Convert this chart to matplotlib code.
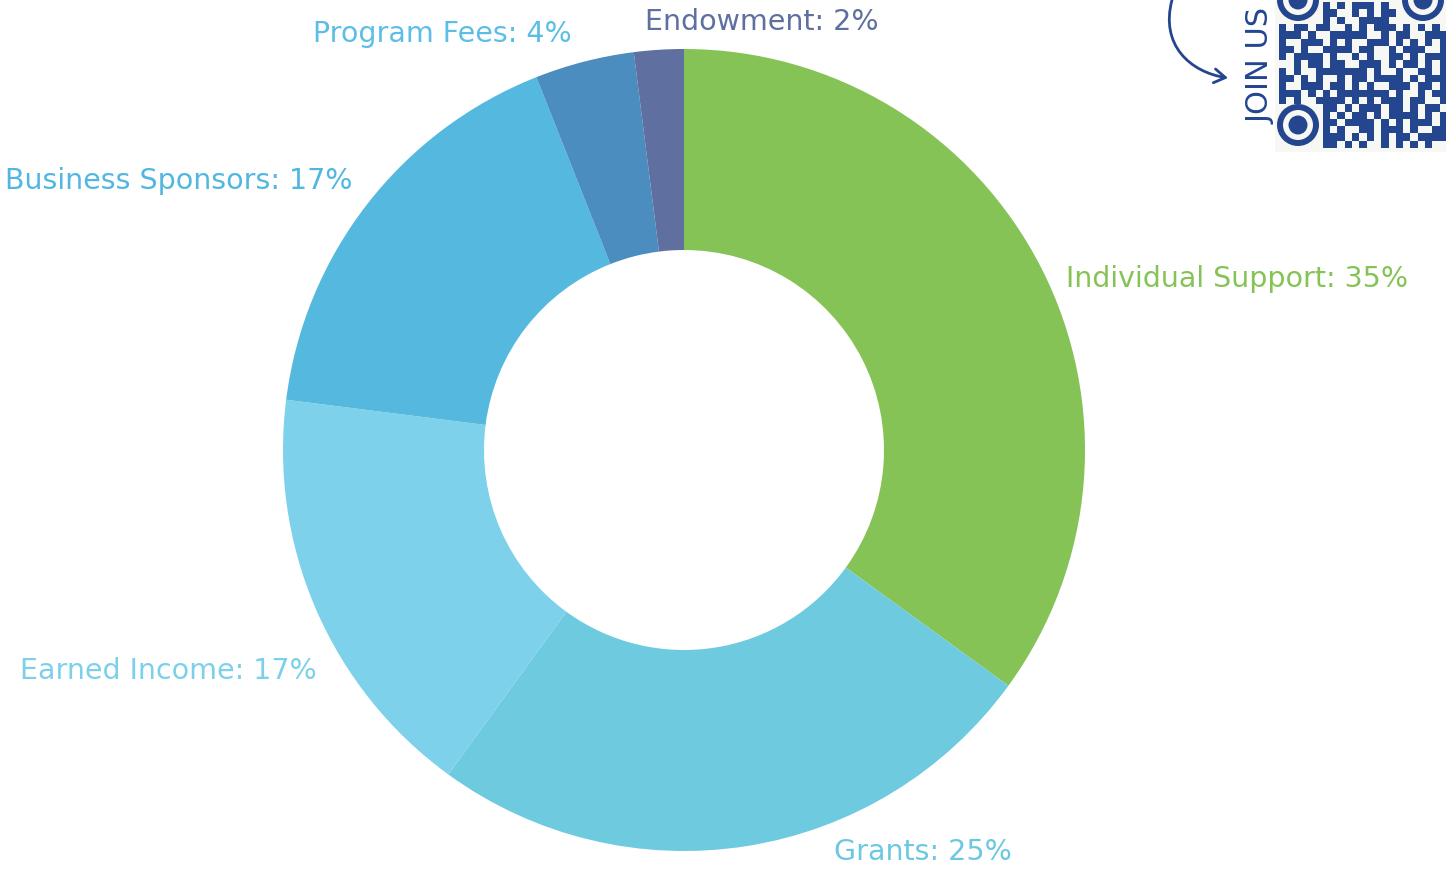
import matplotlib
matplotlib.use("Agg")
import matplotlib.pyplot as plt
from matplotlib.patches import Circle, Rectangle, FancyArrowPatch
from matplotlib.path import Path

categories = ["Individual Support", "Grants", "Earned Income", "Business Sponsors", "Program Fees", "Endowment"]
values = [35, 25, 17, 17, 4, 2]
wedge_colors = ["#86C356", "#6DCADF", "#7DD1EB", "#55B9DF", "#4A8DBE", "#5F6F9F"]
label_colors = ["#86C356", "#6CC8E0", "#7DD0EA", "#52B7E0", "#5CBEE6", "#5F6F9F"]
label_pos = [(1066, 279, "left"), (834, 852, "left"), (20, 671, "left"),
             (5, 181, "left"), (313, 34, "left"), (645, 22, "left")]

W, H = 1446, 877
fig = plt.figure(figsize=(W / 100, H / 100), dpi=100)
ax = fig.add_axes([0, 0, 1, 1])
ax.pie(values, colors=wedge_colors, startangle=-90, counterclock=True,
       center=(684, 450), radius=401,
       wedgeprops=dict(width=201, linewidth=0))
ax.set_xlim(0, W)
ax.set_ylim(H, 0)
ax.set_aspect("equal")
ax.axis("off")

font = ["DejaVu Sans"]
for cat, v, c, (x, y, ha) in zip(categories, values, label_colors, label_pos):
    ax.text(x, y, f"{cat}: {v}%", color=c, fontsize=20.5, ha=ha, va="center",
            family=font)

# decoration: JOIN US + QR
navy = "#24468F"
ax.text(1261, 66, "JOIN US", rotation=90, color=navy, fontsize=22,
        ha="center", va="center", family=font)
verts = [(1172, 0), (1160, 45), (1190, 72), (1228, 78)]
arrow = FancyArrowPatch(path=Path(verts, [Path.MOVETO, Path.CURVE4, Path.CURVE4, Path.CURVE4]),
                        arrowstyle="->,head_length=8,head_width=5", color=navy, lw=2)
ax.add_patch(arrow)

ax.add_patch(Rectangle((1275, 0), 171, 152, color="#F7F7F3", lw=0))
qr = [
    "......#.#.###.#....",
    "......##..#.#.##...",
    "......#.#..####....",
    "#.##.##..#.#.###.#.#.#.",
    "###.#..#####..#.##..###",
    "#..###.#.#..###.#.#.#.#",
    "##.#..####.##..#.###..#",
    "#.####.#..#.#..##.#.###",
    "..#.##.##..###.#.##.#.#",
    "#.#..#######.#..#..##.#",
    "##.#.#..#.##.####.#.###",
    "#..###.##.#.#..###.##.#",
    "###.#.#.#######.#..#.##",
    "#.#..####.#.#.###.##..#",
    "......##.#.###.##.#.##.",
    "......#.#.##.#.####.#.#",
    "......##.####.#.#.###.#",
    "......#.#..##.###.#..##",
    "......###.#.#.#.##.####",
    "......##.#.#..#.#.#.#..",
]
m = 7.3
x0, y0 = 1279, 2
for r, row in enumerate(qr):
    for c, ch in enumerate(row):
        if ch == "#":
            ax.add_patch(Rectangle((x0 + c * m, y0 + r * m), m, m, color=navy, lw=0))
for cx, cy in [(1298, 125), (1298, 0), (1423, 0)]:
    ax.add_patch(Circle((cx, cy), 21, color=navy, lw=0))
    ax.add_patch(Circle((cx, cy), 15, color="#F7F7F3", lw=0))
    ax.add_patch(Circle((cx, cy), 9.5, color=navy, lw=0))

fig.savefig("out.png", dpi=100)
